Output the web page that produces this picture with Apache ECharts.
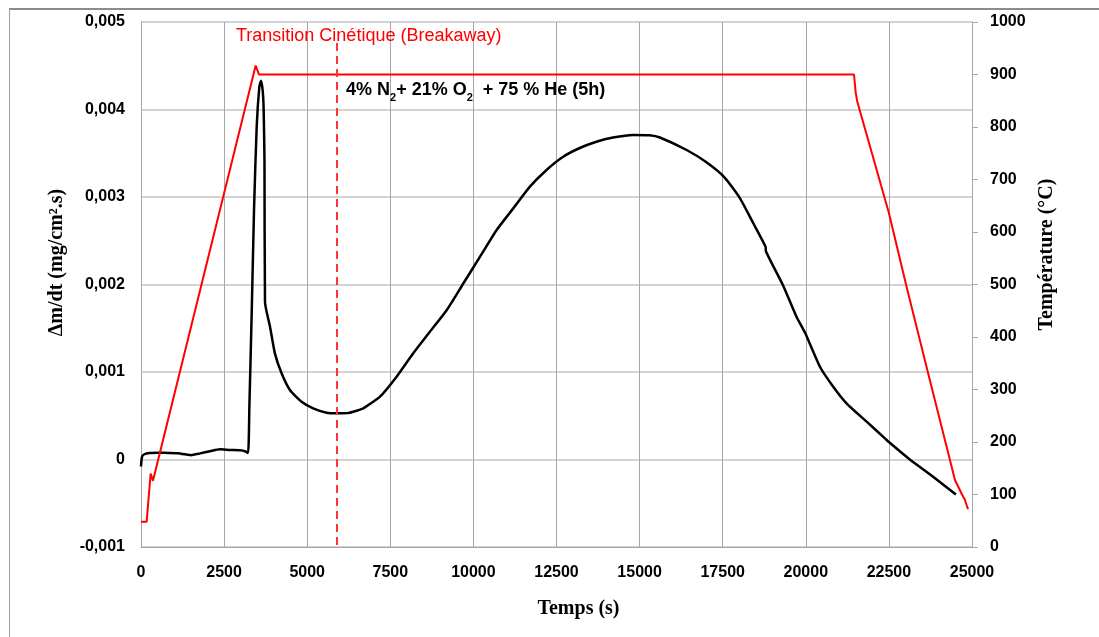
<!DOCTYPE html>
<html>
<head>
<meta charset="utf-8">
<script src="https://cdn.jsdelivr.net/npm/echarts@6/dist/echarts.min.js"></script>
<style>html,body{margin:0;padding:0;background:#fff}#c{width:1099px;height:637px}</style>
</head>
<body>
<div id="c"></div>
<script>
// Δm/dt curve (black, left axis)
const rateTime = [0,30,100,250,500,800,1100,1400,1500,1780,2075,2376,2677,2978,3128,3220,3260,3330,3400,3480,3560,3610,3660,3690,3715,3730,3880,4030,4230,4480,4830,5180,5585,5890,6200,6590,6690,7190,7690,8190,8690,9200,9700,10200,10700,11200,11700,12200,12700,13200,13700,14200,14800,15300,15610,16415,17000,17540,18020,18420,18790,18800,19320,19720,19985,20425,20825,21225,21830,22380,22500,23130,23830,24515];
const rateValue = [-0.00008,0.00003,0.00006,0.000075,0.000078,0.000075,0.000072,0.000055,0.00005,0.00007,0.000094,0.000117,0.000109,0.000105,0.000094,0.000074,0.0006,0.00167,0.00285,0.0038,0.00426,0.00433,0.00422,0.0040,0.0034,0.0018,0.00152,0.00121,0.000985,0.000794,0.00066,0.000585,0.000535,0.000528,0.00053,0.00057,0.000585,0.000718,0.000946,0.001214,0.00146,0.001709,0.002014,0.002318,0.002623,0.00287,0.003118,0.003309,0.00346,0.00356,0.003632,0.00368,0.00371,0.003705,0.00368,0.003537,0.0034,0.00323,0.002985,0.0027,0.00243,0.00238,0.001986,0.001632,0.001442,0.00106,0.000832,0.000642,0.000432,0.000242,0.0002,0,-0.000197,-0.0004];
// Temperature curve (red, right axis)
const tempTime = [0,170,290,360,3450,3550,21450,21500,21550,22500,23030,23680,24335,24485,24685,24785,24880];
const tempValue = [48,48,140,126,917,900,900,866,848,636,496,331,166,128,102,90,72];
// Breakaway marker
const breakawayTime = 5900;
// Axis ranges / ticks
const xTicks = {min:0, max:25000, interval:2500};
const leftTicks = {min:-0.001, max:0.005, interval:0.001};
const rightTicks = {min:0, max:1000, interval:100};
const labels = {
  breakaway: 'Transition Cinétique (Breakaway)',
  xName: 'Temps (s)',
  leftName: 'Δm/dt (mg/cm².s)',
  rightName: 'Température (°C)'
};

const rateData = rateTime.map((t,i)=>[t, rateValue[i]]);
const tempData = tempTime.map((t,i)=>[t, tempValue[i]]);

const tickFont = {fontFamily:'"Liberation Sans", Arial, sans-serif', fontWeight:'bold', fontSize:16, color:'#000'};
const nameFont = {fontFamily:'"Liberation Serif", "Times New Roman", serif', fontWeight:'bold', fontSize:20, color:'#000'};

const chart = echarts.init(document.getElementById('c'), null, {renderer:'canvas'});
chart.setOption({
  animation:false,
  backgroundColor:'#fff',
  grid:{left:141, right:127, top:22, bottom:90, containLabel:false},
  xAxis:{
    type:'value', min:xTicks.min, max:xTicks.max, interval:xTicks.interval,
    name:labels.xName, nameLocation:'middle', nameGap:52,
    nameTextStyle:Object.assign({}, nameFont, {padding:[0,0,0,44]}),
    axisLine:{show:true, onZero:false, lineStyle:{color:'#a6a6a6', width:1}},
    axisTick:{show:false},
    axisLabel:Object.assign({margin:18, formatter:v=>String(Math.round(v))}, tickFont),
    splitLine:{show:true, lineStyle:{color:'#a6a6a6', width:1}}
  },
  yAxis:[
    {
      type:'value', min:leftTicks.min, max:leftTicks.max, interval:leftTicks.interval,
      name:labels.leftName, nameLocation:'middle', nameGap:74, nameRotate:90,
      nameTextStyle:Object.assign({}, nameFont, {padding:[0,0,0,44]}),
      axisLine:{show:true, onZero:false, lineStyle:{color:'#a6a6a6', width:1}},
      axisTick:{show:false},
      axisLabel:Object.assign({margin:16, formatter:v=>{
        if (Math.abs(v) < 1e-12) return '0';
        return v.toFixed(3).replace('.', ',');
      }}, tickFont),
      splitLine:{show:true, lineStyle:{color:'#c4c4c4', width:1.5}}
    },
    {
      type:'value', position:'right', min:rightTicks.min, max:rightTicks.max, interval:rightTicks.interval,
      name:labels.rightName, nameLocation:'middle', nameGap:62, nameRotate:90,
      nameTextStyle:Object.assign({}, nameFont, {padding:[0,0,0,60]}),
      axisLine:{show:true, onZero:false, lineStyle:{color:'#a6a6a6', width:1}},
      axisTick:{show:true, inside:false, length:6, lineStyle:{color:'#a6a6a6'}},
      axisLabel:Object.assign({margin:18, formatter:v=>String(Math.round(v))}, tickFont),
      splitLine:{show:false}
    }
  ],
  series:[
    {
      name:'Δm/dt', type:'line', yAxisIndex:0, data:rateData,
      showSymbol:false, symbol:'none', smooth:0.2,
      lineStyle:{color:'#000', width:2.5}, z:3
    },
    {
      name:'Température', type:'line', yAxisIndex:1, data:tempData,
      showSymbol:false, symbol:'none', smooth:false,
      lineStyle:{color:'#ff0000', width:2}, z:4,
      markLine:{
        silent:true, symbol:['none','none'], label:{show:false},
        lineStyle:{color:'#ff3333', width:2, type:[8,5]},
        data:[[{coord:[breakawayTime, 960]},{coord:[breakawayTime, 0]}]]
      }
    }
  ],
  graphic:[
    {type:'line', shape:{x1:9, y1:9, x2:1099, y2:9}, style:{stroke:'#8c8c8c', lineWidth:2}, silent:true},
    {type:'line', shape:{x1:9.5, y1:9, x2:9.5, y2:637}, style:{stroke:'#a0a0a0', lineWidth:1}, silent:true},
    {type:'text', left:236, top:27, z:10, style:{text:labels.breakaway, fill:'#ff0000', font:'18px "Liberation Sans", Arial, sans-serif'}},
    {type:'text', left:346, top:81, z:10, style:{
      text:'{b|4% N}{s|2}{b|+ 21% O}{s|2}{b|  + 75 % He (5h)}',
      rich:{
        b:{fill:'#000', font:'bold 18px "Liberation Sans", Arial, sans-serif', lineHeight:26, verticalAlign:'middle'},
        s:{fill:'#000', font:'bold 11px "Liberation Sans", Arial, sans-serif', lineHeight:26, verticalAlign:'bottom'}
      }
    }}
  ]
});
</script>
</body>
</html>
